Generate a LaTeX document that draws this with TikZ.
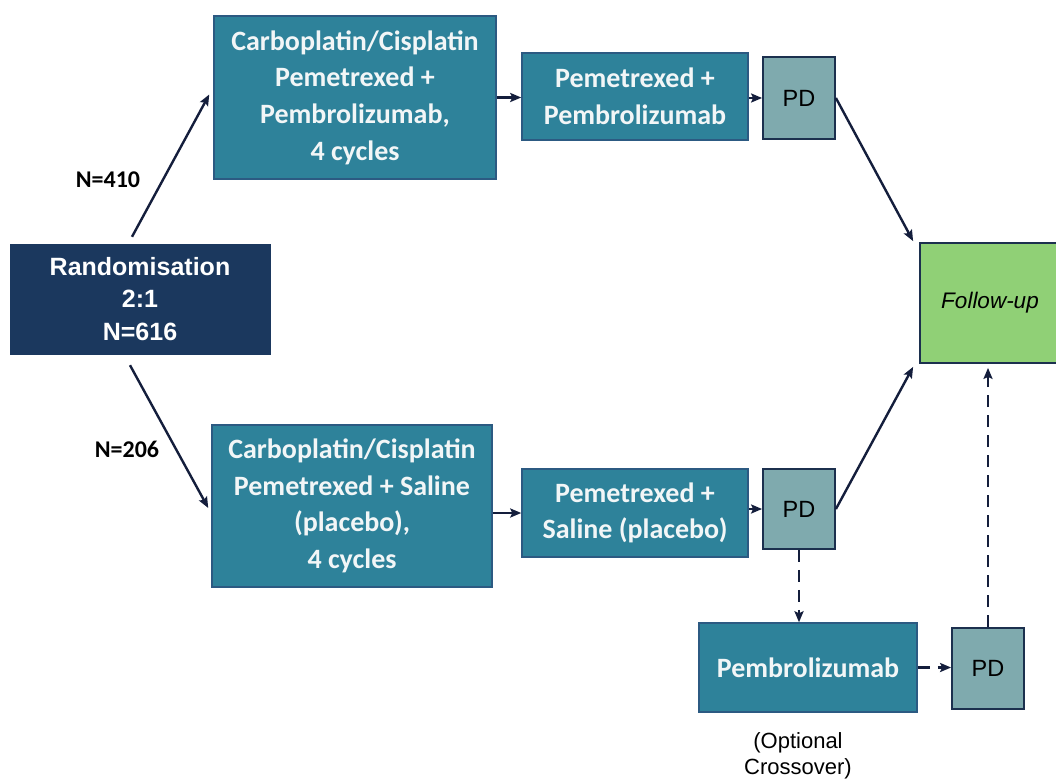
\documentclass[tikz,border=0pt]{standalone}
\usepackage{fontspec}
\setmainfont{Liberation Sans}
\newfontfamily\calfont{Carlito}
\usetikzlibrary{arrows.meta,calc}
\definecolor{teal1}{RGB}{46,130,154}
\definecolor{tealedge}{RGB}{44,90,130}
\definecolor{navy}{RGB}{27,56,94}
\definecolor{pdfill}{RGB}{127,170,174}
\definecolor{pdedge}{RGB}{28,48,78}
\definecolor{fugreen}{RGB}{144,208,118}
\definecolor{arrcol}{RGB}{20,30,60}
\definecolor{boxtext}{RGB}{242,246,247}
\tikzset{
  tbox/.style={draw=tealedge, line width=1.5pt, fill=teal1, text=boxtext, align=center,
    font=\calfont\bfseries\fontsize{28}{36.7}\selectfont, inner sep=0pt},
  randbox/.style={fill=navy, draw=navy, text=white, align=center,
    font=\bfseries\fontsize{25}{32.5}\selectfont, inner sep=0pt},
  pdbox/.style={draw=pdedge, line width=1.8pt, fill=pdfill, text=black,
    font=\fontsize{23.5}{26}\selectfont, inner sep=0pt, minimum width=72pt},
  fubox/.style={draw=pdedge, line width=1.8pt, fill=fugreen, text=black,
    font=\itshape\fontsize{22.5}{26}\selectfont, inner sep=0pt},
  arr/.style={draw=arrcol, line width=2.4pt, -{Stealth[length=11pt,width=9pt,inset=2pt]}},
  darr/.style={arr, dash pattern=on 12pt off 8pt},
  nlab/.style={font=\calfont\bfseries\fontsize{24}{28}\selectfont, text=black, inner sep=0pt},
  note/.style={font=\fontsize{22}{26}\selectfont, align=center, inner sep=0pt}
}
\begin{document}
\begin{tikzpicture}[x=1pt,y=-1pt]
\clip (0,0) rectangle (1056,783);
\fill[white] (0,0) rectangle (1056,783);

\node[randbox, minimum width=260pt, minimum height=110pt] (rand) at (140,299)
  {Randomisation\\2:1\\N=616};
\node[tbox, minimum width=282pt, minimum height=163pt] (chemoA) at (355,97.5)
  {Carboplatin/Cisplatin\\Pemetrexed +\\Pembrolizumab,\\4 cycles};
\node[tbox, minimum width=226pt, minimum height=87pt] (pemA) at (635,96.5)
  {Pemetrexed +\\Pembrolizumab};
\node[pdbox, minimum height=82pt] (pdA) at (799,98) {PD};
\node[fubox, minimum width=140pt, minimum height=120pt] (fu) at (990,303) {Follow-up};

\node[tbox, minimum width=280pt, minimum height=162pt] (chemoB) at (352,506)
  {Carboplatin/Cisplatin\\Pemetrexed + Saline\\(placebo),\\4 cycles};
\node[tbox, minimum width=226pt, minimum height=88pt] (pemB) at (635,513)
  {Pemetrexed +\\Saline (placebo)};
\node[pdbox, minimum height=80pt] (pdB) at (799,509) {PD};
\node[tbox, minimum width=218pt, minimum height=89pt] (pembro) at (808,667.5)
  {Pembrolizumab};
\node[pdbox, minimum height=81pt] (pdC) at (988,668.5) {PD};
\node[note] (opt) at (798,756) {(Optional\\Crossover)};

\node[nlab] (n410) at (108,180) {N=410};
\node[nlab] (n206) at (127,449) {N=206};

\draw[arr] ([xshift=-8pt,yshift=7pt]rand.north) -- ([xshift=-4pt,yshift=3pt]chemoA.west);
\draw[arr] ([xshift=-10pt,yshift=-11pt]rand.south) -- ([xshift=-3pt,yshift=-2pt]chemoB.west);
\draw[arr] (chemoA.east) -- (chemoA.east -| pemA.west);
\draw[arr] (pemA.east |- pdA.west) -- (pdA.west);
\draw[arr] (pdA.east) -- ([xshift=-6pt,yshift=1pt]fu.north west);
\draw[arr] (pemB.west -| chemoB.east) -- (pemB.west);
\draw[arr] (pemB.east |- pdB.west) -- (pdB.west);
\draw[arr] (pdB.east) -- ([xshift=-6pt,yshift=-3pt]fu.south west);
\draw[darr] (pdB.south) -- (pdB.south |- pembro.north);
\draw[darr] (pembro.east) -- (pembro.east -| pdC.west);
\draw[darr] (pdC.north) -- ([yshift=-4pt]pdC.north |- fu.south);
\end{tikzpicture}
\end{document}
